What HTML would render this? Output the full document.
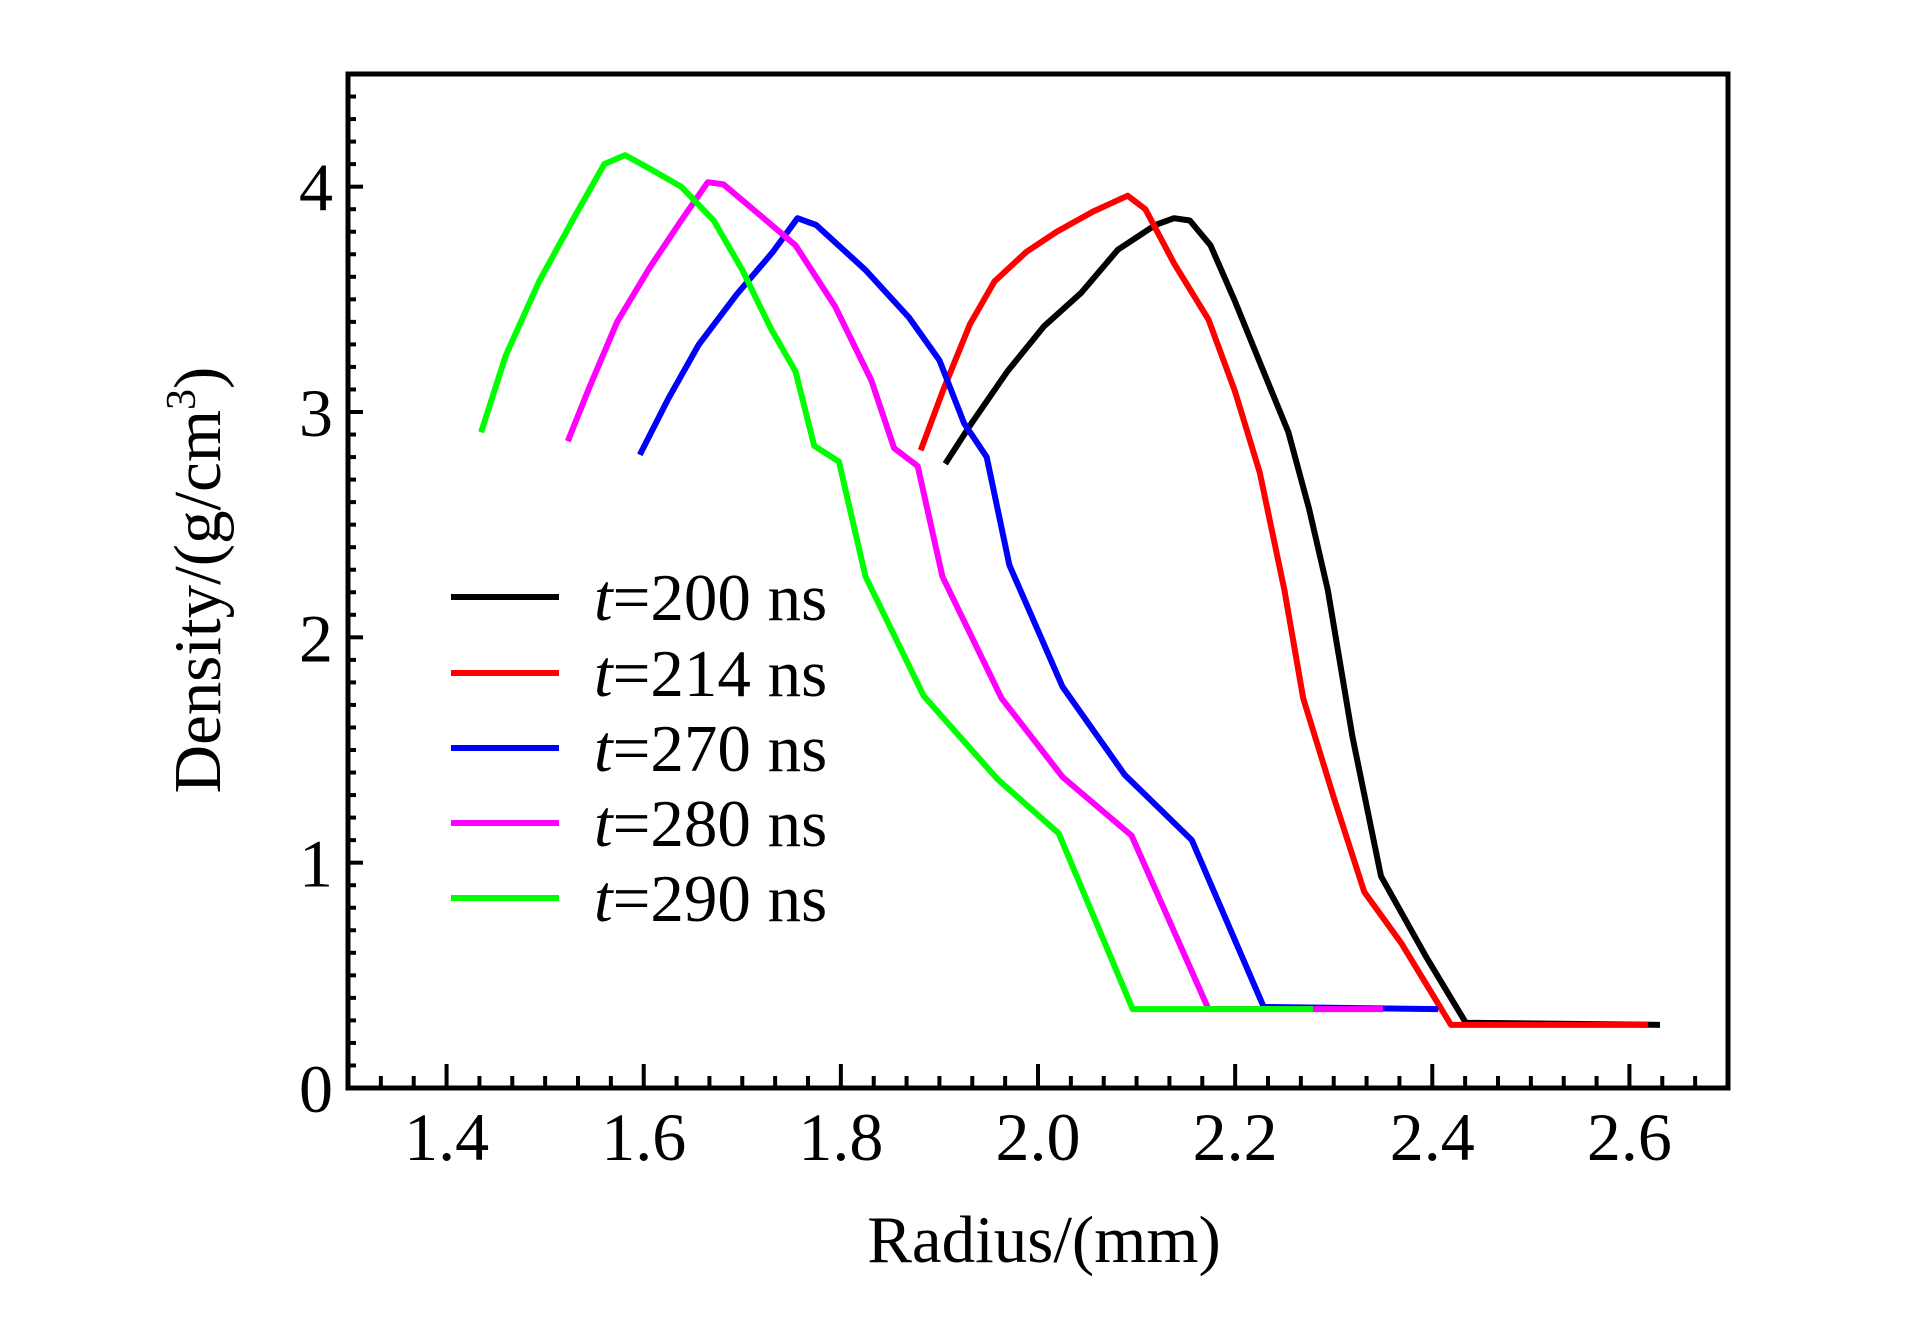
<!DOCTYPE html>
<html><head><meta charset="utf-8"><style>
body{margin:0;background:#fff}
svg{display:block;font-family:"Liberation Serif","DejaVu Serif",serif}
</style></head><body>
<svg id="chart" width="1923" height="1342" viewBox="0 0 1923 1342" xmlns="http://www.w3.org/2000/svg">
<g id="plot"></g>
</svg>
<script>
const xTicks=[1.4,1.6,1.8,2.0,2.2,2.4,2.6];
const xTickLabels=["1.4","1.6","1.8","2.0","2.2","2.4","2.6"];
const yTicks=[0,1,2,3,4];
const yTickLabels=["0","1","2","3","4"];
const seriesNames=["t200","t214","t270","t280","t290"];
const legendTimes=["200","214","270","280","290"];
const seriesColors=["#000000","#ff0000","#0000ff","#ff00ff","#00ff00"];
const s200x=[1.906,1.931,1.969,2.006,2.044,2.081,2.119,2.138,2.154,2.175,2.2,2.225,2.254,2.275,2.294,2.319,2.348,2.394,2.434,2.631];
const s200y=[2.77,2.94,3.18,3.38,3.53,3.72,3.83,3.86,3.85,3.74,3.49,3.22,2.91,2.57,2.21,1.56,0.94,0.58,0.29,0.28];
const s214x=[1.881,1.904,1.931,1.956,1.988,2.019,2.056,2.091,2.109,2.138,2.173,2.2,2.225,2.25,2.269,2.3,2.331,2.369,2.419,2.619];
const s214y=[2.83,3.10,3.39,3.58,3.71,3.80,3.89,3.96,3.90,3.66,3.41,3.09,2.73,2.21,1.73,1.29,0.87,0.64,0.28,0.28];
const s270x=[1.596,1.625,1.656,1.694,1.731,1.756,1.775,1.825,1.869,1.9,1.925,1.948,1.971,2.025,2.088,2.156,2.229,2.406];
const s270y=[2.81,3.06,3.30,3.52,3.71,3.86,3.83,3.63,3.42,3.23,2.95,2.80,2.32,1.78,1.39,1.10,0.36,0.35];
const s280x=[1.523,1.544,1.573,1.606,1.638,1.665,1.681,1.719,1.754,1.794,1.831,1.854,1.878,1.903,1.963,2.025,2.095,2.173,2.35];
const s280y=[2.87,3.10,3.40,3.64,3.85,4.02,4.01,3.87,3.74,3.47,3.14,2.84,2.76,2.27,1.73,1.38,1.12,0.35,0.35];
const s290x=[1.435,1.46,1.494,1.529,1.56,1.581,1.606,1.638,1.671,1.7,1.729,1.754,1.773,1.798,1.825,1.884,1.959,2.021,2.096,2.279];
const s290y=[2.91,3.25,3.58,3.86,4.10,4.14,4.08,4.00,3.85,3.63,3.37,3.18,2.85,2.78,2.27,1.74,1.37,1.13,0.35,0.35];

const L=348,R=1728,T=74,B=1088,X0=1.3,X1=2.7,Y0=0,Y1=4.5;
const xs=v=>L+(v-X0)/(X1-X0)*(R-L);
const ys=v=>B-(v-Y0)/(Y1-Y0)*(B-T);
const NS="http://www.w3.org/2000/svg";
const g=document.getElementById('plot');
function mk(tag,attrs,parent){const e=document.createElementNS(NS,tag);for(const k in attrs)e.setAttribute(k,attrs[k]);(parent||g).appendChild(e);return e;}

const allX=[s200x,s214x,s270x,s280x,s290x], allY=[s200y,s214y,s270y,s280y,s290y];
for(let i=0;i<5;i++){
  const pts=allX[i].map((x,j)=>xs(x).toFixed(1)+","+ys(allY[i][j]).toFixed(1)).join(" ");
  const p=mk('polyline',{points:pts,fill:"none",stroke:seriesColors[i],"stroke-width":6,"stroke-linejoin":"round"});
  
  
}
const fr=mk('rect',{x:L,y:T,width:R-L,height:B-T,fill:"none",stroke:"#000","stroke-width":5});


for(let k=0;k<=42;k++){
  const v=X0+k*(0.2/6);
  if(v<=X0+1e-6||v>=X1-1e-6)continue;
  const major=(k-3)%6===0;
  const t=mk('line',{x1:xs(v),x2:xs(v),y1:B,y2:B-(major?24:12),stroke:"#000","stroke-width":4});
  
  
}
xTicks.forEach((v,i)=>{
  const t=mk('text',{x:xs(v),y:1160,"font-size":68,"text-anchor":"middle"});
  t.textContent=xTickLabels[i];
  
  
});
for(let k=1;k<45;k++){
  const v=k*0.1;const major=k%10===0;
  const t=mk('line',{x1:L,x2:L+(major?15:8),y1:ys(v),y2:ys(v),stroke:"#000","stroke-width":4});
  
  
}
yTicks.forEach((v,i)=>{
  const t=mk('text',{x:333,y:ys(v)+24,"font-size":68,"text-anchor":"end"});
  t.textContent=yTickLabels[i];
  
  
});
const xt=mk('text',{x:1044,y:1262,"font-size":67,"text-anchor":"middle"});
xt.textContent="Radius/(mm)";


const yt=mk('text',{x:0,y:0,"font-size":67,"text-anchor":"middle",transform:"translate(220,580) rotate(-90)"});
yt.innerHTML='Density/(g/cm<tspan font-size="42" dy="-25">3</tspan><tspan dy="25">)</tspan>';


const legY=[597,673,748,823,898];
for(let i=0;i<5;i++){
  const ln=mk('line',{x1:451,x2:559,y1:legY[i],y2:legY[i],stroke:seriesColors[i],"stroke-width":6});
  
  
  const tx=mk('text',{x:594,y:legY[i]+23,"font-size":67});
  tx.innerHTML='<tspan font-style="italic">t</tspan>='+legendTimes[i]+' ns';
  
  
}
</script>
</body></html>
